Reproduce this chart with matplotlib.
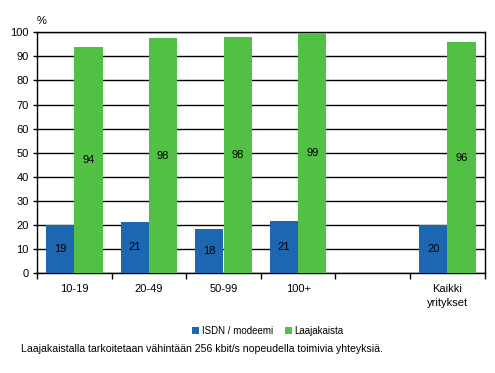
import matplotlib
matplotlib.use("Agg")
import matplotlib.pyplot as plt
import numpy as np

categories = ["10-19", "20-49", "50-99", "100+", "", "Kaikki\nyritykset"]
isdn = [19.9, 21.2, 18.3, 21.6, None, 20.0]
isdn_labels = ["19", "21", "18", "21", None, "20"]
laaja = [93.8, 97.5, 97.9, 99.6, None, 95.8]
laaja_labels = ["94", "98", "98", "99", None, "96"]
series_names = ["ISDN / modeemi", "Laajakaista"]
footnote = "Laajakaistalla tarkoitetaan vähintään 256 kbit/s nopeudella toimivia yhteyksiä."

plt.rcParams['font.family'] = ['Liberation Sans', 'DejaVu Sans']
blue = "#1c66b2"
green = "#52c044"

fig = plt.figure(figsize=(4.95, 3.73), dpi=100)
ax = fig.add_axes([37/495, 1 - 273/373, (484.6 - 37)/495, (273 - 32.3)/373])

x = np.arange(len(categories))
w = 0.38
for i in range(len(categories)):
    if isdn[i] is not None:
        ax.bar(x[i] - w/2, isdn[i], w, color=blue, zorder=3,
               label=series_names[0] if i == 0 else None)
        ax.text(x[i] - w/2, isdn[i]/2, isdn_labels[i], ha='center', va='center',
                fontsize=8, zorder=4)
    if laaja[i] is not None:
        ax.bar(x[i] + w/2, laaja[i], w, color=green, zorder=3,
               label=series_names[1] if i == 0 else None)
        ax.text(x[i] + w/2, laaja[i]/2, laaja_labels[i], ha='center', va='center',
                fontsize=8, zorder=4)

ax.set_xlim(-0.5, len(categories) - 0.5)
ax.set_ylim(0, 100)
ax.set_yticks(np.arange(0, 101, 10))
ax.yaxis.grid(True, color='black', linewidth=1, zorder=0)
ax.set_axisbelow(True)
ax.set_xticks(np.arange(-0.5, len(categories), 1))
ax.set_xticklabels([])
ax.set_xticks(x, minor=True)
ax.set_xticklabels(categories, minor=True, fontsize=8, linespacing=1.5)
ax.tick_params(axis='x', which='minor', length=0, pad=8)
ax.tick_params(axis='x', which='major', length=4, width=1, direction='out')
ax.tick_params(axis='y', length=3, width=1, labelsize=8, pad=3)
for s in ax.spines.values():
    s.set_linewidth(1)
    s.set_color('black')

fig.text(42/495, 1 - 21/373, "%", fontsize=8, ha='center', va='center')

handles, labels = ax.get_legend_handles_labels()
fig.legend(handles, labels, loc='center', bbox_to_anchor=(268/495, 1 - 331/373),
           ncol=2, frameon=False, fontsize=7, handlelength=0.7, handleheight=0.7,
           handletextpad=0.3, columnspacing=1.2)
fig.text(21/495, 1 - 349/373, footnote, fontsize=7.6, ha='left', va='center')

fig.savefig("out.png", dpi=100)
